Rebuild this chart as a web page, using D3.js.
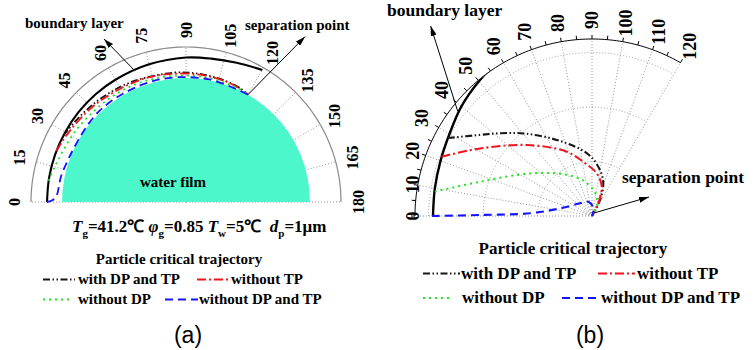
<!DOCTYPE html>
<html>
<head>
<meta charset="utf-8">
<script src="https://cdn.jsdelivr.net/npm/d3@7"></script>
<style>
body { margin: 0; background: #fff; }
svg text { font-family: "Liberation Serif", "Times New Roman", serif; font-weight: bold; fill: #000; }
</style>
</head>
<body>
<svg id="chart"></svg>
<script>
// [angle in degrees, distance from the water film surface]
const boundaryLayer = [[0, 2.92], [10, 2.93], [20, 2.96], [30, 3.02], [40, 3.13], [50, 3.23], [60, 3.34], [75, 3.6], [90, 3.98], [100, 4.2], [110, 4.7], [120, 5.55]];
const withDPTP = [[28.4, 3.01], [35.9, 2.54], [42, 2.27], [50.3, 1.97], [65.1, 1.54], [85.2, 1.16], [97.3, 0.91], [108.2, 0.66], [116.6, 0.33], [120, 0]];
const withoutTP = [[21.5, 2.97], [31.1, 2.4], [47.4, 1.77], [68.5, 1.27], [82.4, 0.98], [96.3, 0.79], [108.3, 0.57], [116.4, 0.26], [120, 0]];
const withoutDP = [[8.8, 2.92], [17, 2.15], [34.5, 1.38], [57, 0.91], [77, 0.66], [98, 0.43], [115, 0.22], [120, 0]];
const withoutDPTP = [[0, 2.94], [0.5, 2.06], [2.5, 1.14], [13.5, 0.6], [46.6, 0.32], [75.5, 0.27], [100, 0.15], [120, 0]];

const seriesNames = ['with DP and TP', 'without TP', 'without DP', 'without DP and TP'];
const ticksA = [0, 15, 30, 45, 60, 75, 90, 105, 120, 135, 150, 165, 180];
const ticksB = [0, 10, 20, 30, 40, 50, 60, 70, 80, 90, 100, 110, 120];
const ringsB = [1, 2, 3];
const filmEdge = 0;        // water film surface
const separationAngle = 120;

const width = 756;
const height = 350;

const series = [
	{ name: seriesNames[0], data: withDPTP, color: '#1c1414', dash: '7,2.5,1.5,2.5,1.5,2.5' },
	{ name: seriesNames[1], data: withoutTP, color: '#f0141e', dash: '9,3,2,3' },
	{ name: seriesNames[2], data: withoutDP, color: '#22e622', dash: '2,4' },
	{ name: seriesNames[3], data: withoutDPTP, color: '#1414ff', dash: '8,5' }
];

const svg = d3.select('#chart')
	.attr('width', width)
	.attr('height', height);

const defs = svg.append('defs');
defs.append('marker')
	.attr('id', 'arrow')
	.attr('viewBox', '0 0 10 6')
	.attr('refX', 10)
	.attr('refY', 3)
	.attr('markerWidth', 10)
	.attr('markerHeight', 6)
	.attr('markerUnits', 'userSpaceOnUse')
	.attr('orient', 'auto')
	.append('path')
	.attr('d', 'M0,0L10,3L0,6z')
	.attr('fill', '#000');

// 0 deg on the left, 90 on top, 180 on the right
const angle = d3.scaleLinear().domain([0, 180]).range([-Math.PI / 2, Math.PI / 2]);

const polar = (deg, r) => [r * Math.sin(angle(deg)), -r * Math.cos(angle(deg))];

const drawCurves = (g, r, lw) => {
	const line = d3.lineRadial()
		.angle(d => angle(d[0]))
		.radius(d => r(d[1]))
		.curve(d3.curveCatmullRom);

	g.append('path')
		.attr('d', line(boundaryLayer))
		.attr('fill', 'none')
		.attr('stroke', '#000')
		.attr('stroke-width', lw + 0.3);

	g.selectAll('.traj')
		.data(series)
		.enter()
		.append('path')
		.attr('class', 'traj')
		.attr('d', d => line(d.data))
		.attr('fill', 'none')
		.attr('stroke', d => d.color)
		.attr('stroke-width', lw)
		.attr('stroke-dasharray', d => d.dash);
};

const drawLegend = (g, x0, y0, size, cols, rowGap) => {
	g.append('text')
		.attr('x', x0.title)
		.attr('y', y0)
		.attr('text-anchor', 'middle')
		.style('font-size', size + 'px')
		.text('Particle critical trajectory');

	series.forEach((s, i) => {
		const c = cols[i];
		const y = y0 + rowGap * (1 + Math.floor(i / 2));
		g.append('line')
			.attr('x1', c[0]).attr('x2', c[1])
			.attr('y1', y - size * 0.3).attr('y2', y - size * 0.3)
			.attr('stroke', s.color)
			.attr('stroke-width', 2)
			.attr('stroke-dasharray', s.dash);
		g.append('text')
			.attr('x', c[2])
			.attr('y', y)
			.style('font-size', size + 'px')
			.text(s.name);
	});
};

// ---------- panel (a) ----------
const cA = { x: 186, y: 202 };
const rA = d3.scaleLinear().domain([-24.1, 6.03]).range([0, 155]);
const gA = svg.append('g').attr('transform', `translate(${cA.x}, ${cA.y})`);

gA.selectAll('.spoke')
	.data(ticksA)
	.enter()
	.append('line')
	.attr('class', 'spoke')
	.attr('x2', d => polar(d, rA.range()[1])[0])
	.attr('y2', d => polar(d, rA.range()[1])[1])
	.attr('stroke', '#888')
	.attr('stroke-width', 0.9)
	.attr('stroke-dasharray', '1,2');

gA.append('path')
	.attr('d', d3.arc()({ innerRadius: 0, outerRadius: rA(filmEdge), startAngle: angle(0), endAngle: angle(180) }))
	.attr('fill', '#4cf7cb');

gA.append('path')
	.attr('d', d3.lineRadial().angle(d => angle(d)).radius(rA.range()[1])(d3.range(0, 180.5, 1)))
	.attr('fill', 'none')
	.attr('stroke', '#8a8a8a')
	.attr('stroke-width', 1.2);

drawCurves(gA, rA, 1.8);

gA.selectAll('.tick-label')
	.data(ticksA)
	.enter()
	.append('text')
	.attr('class', 'tick-label')
	.attr('transform', d => {
		const p = polar(d, 172);
		return `translate(${p[0]}, ${p[1]}) rotate(-90)`;
	})
	.attr('text-anchor', 'middle')
	.attr('dominant-baseline', 'central')
	.style('font-size', '16px')
	.text(d => d);

// annotations (a)
const blA = polar(68.5, rA(3.5));
gA.append('line')
	.attr('x1', blA[0]).attr('y1', blA[1])
	.attr('x2', blA[0] - 30).attr('y2', blA[1] - 31)
	.attr('stroke', '#000').attr('stroke-width', 1)
	.attr('marker-end', 'url(#arrow)');
const spA = polar(separationAngle, rA(filmEdge));
gA.append('line')
	.attr('x1', spA[0]).attr('y1', spA[1])
	.attr('x2', spA[0] + 57).attr('y2', spA[1] - 58)
	.attr('stroke', '#000').attr('stroke-width', 1)
	.attr('marker-end', 'url(#arrow)');

svg.append('text').attr('x', 25).attr('y', 28).style('font-size', '15px').text('boundary layer');
svg.append('text').attr('x', 245).attr('y', 30).style('font-size', '15px').text('separation point');
svg.append('text').attr('x', 173).attr('y', 187).attr('text-anchor', 'middle').style('font-size', '15px').text('water film');

const params = svg.append('text').attr('x', 72).attr('y', 232).style('font-size', '17px');
const parts = [
	['T', 'i'], ['g', 's'], ['=41.2℃ ', 'n'],
	['φ', 'i'], ['g', 's'], ['=0.85 ', 'n'],
	['T', 'i'], ['w', 's'], ['=5℃  ', 'n'],
	['d', 'i'], ['p', 's'], ['=1μm', 'n']
];
let shifted = false;
parts.forEach(p => {
	const t = params.append('tspan').text(p[0]);
	if (p[1] === 'i') t.style('font-style', 'italic');
	if (p[1] === 's') {
		t.attr('dy', 5).style('font-size', '11px');
		shifted = true;
	} else if (shifted) {
		t.attr('dy', -5);
		shifted = false;
	}
});
params.style('white-space', 'pre');

drawLegend(svg, { title: 179 }, 264, 15,
	[[43, 75, 78], [197, 230, 231], [43, 70, 78], [165, 198, 199]], 20);

svg.append('text')
	.attr('x', 188).attr('y', 343)
	.attr('text-anchor', 'middle')
	.style('font-family', '"Liberation Sans", Arial, sans-serif')
	.style('font-weight', 'normal')
	.style('font-size', '23px')
	.text('(a)');

// ---------- panel (b) ----------
const cB = { x: 592, y: 216 };
const rB = d3.scaleLinear().domain([0, 3.25]).range([0, 177]);
const gB = svg.append('g').attr('transform', `translate(${cB.x}, ${cB.y})`);
const outerB = rB.range()[1];

defs.append('clipPath')
	.attr('id', 'clipB')
	.append('circle')
	.attr('r', outerB);

gB.selectAll('.ring')
	.data(ringsB)
	.enter()
	.append('path')
	.attr('class', 'ring')
	.attr('d', d => d3.lineRadial().angle(a => angle(a)).radius(rB(d))(d3.range(0, 120.5, 1)))
	.attr('fill', 'none')
	.attr('stroke', '#999')
	.attr('stroke-width', 0.9)
	.attr('stroke-dasharray', '1,2');

gB.selectAll('.spoke')
	.data(ticksB)
	.enter()
	.append('line')
	.attr('class', 'spoke')
	.attr('x2', d => polar(d, outerB)[0])
	.attr('y2', d => polar(d, outerB)[1])
	.attr('stroke', '#888')
	.attr('stroke-width', 0.9)
	.attr('stroke-dasharray', '1,2');

gB.append('path')
	.attr('d', d3.lineRadial().angle(d => angle(d)).radius(outerB)(d3.range(0, 120.5, 1)))
	.attr('fill', 'none')
	.attr('stroke', '#000')
	.attr('stroke-width', 1);

gB.selectAll('.minor')
	.data(d3.range(0, 121, 5))
	.enter()
	.append('line')
	.attr('class', 'minor')
	.attr('x1', d => polar(d, outerB)[0])
	.attr('y1', d => polar(d, outerB)[1])
	.attr('x2', d => polar(d, outerB + 4)[0])
	.attr('y2', d => polar(d, outerB + 4)[1])
	.attr('stroke', '#000')
	.attr('stroke-width', 1);

const curvesB = gB.append('g').attr('clip-path', 'url(#clipB)');
drawCurves(curvesB, rB, 2.1);

gB.selectAll('.tick-label')
	.data(ticksB)
	.enter()
	.append('text')
	.attr('class', 'tick-label')
	.attr('transform', d => {
		let p = polar(d, 196);
		if (p[0] < -179) p = [-179, p[1] * (-179 / p[0])];
		return `translate(${p[0]}, ${p[1]}) rotate(-90)`;
	})
	.attr('text-anchor', 'middle')
	.attr('dominant-baseline', 'central')
	.style('font-size', '18px')
	.text(d => d);

// annotations (b)
const blB = polar(38, rB(3.13));
gB.append('line')
	.attr('x1', blB[0]).attr('y1', blB[1])
	.attr('x2', blB[0] - 27).attr('y2', blB[1] - 85)
	.attr('stroke', '#000').attr('stroke-width', 1)
	.attr('marker-end', 'url(#arrow)');
gB.append('line')
	.attr('x1', 2).attr('y1', -3)
	.attr('x2', 57).attr('y2', -19)
	.attr('stroke', '#000').attr('stroke-width', 1)
	.attr('marker-end', 'url(#arrow)');

svg.append('text').attr('x', 387).attr('y', 16).style('font-size', '17.5px').text('boundary layer');
svg.append('text').attr('x', 622).attr('y', 183).style('font-size', '17.5px').text('separation point');

drawLegend(svg, { title: 573 }, 254, 17,
	[[423, 460, 461], [598, 635, 637], [423, 453, 462], [562, 600, 601]], 24.5);

svg.append('text')
	.attr('x', 590).attr('y', 343)
	.attr('text-anchor', 'middle')
	.style('font-family', '"Liberation Sans", Arial, sans-serif')
	.style('font-weight', 'normal')
	.style('font-size', '23px')
	.text('(b)');
</script>
</body>
</html>
